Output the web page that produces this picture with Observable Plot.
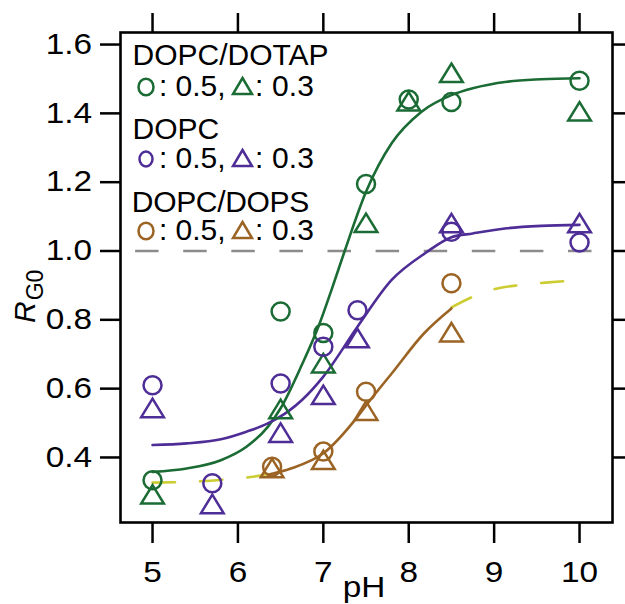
<!DOCTYPE html>
<html><head><meta charset="utf-8">
<script src="https://cdn.jsdelivr.net/npm/d3@7"></script>
<script src="https://cdn.jsdelivr.net/npm/@observablehq/plot@0.6"></script>
<style>body{margin:0;background:#fff;} svg{display:block;}</style>
</head><body><div id="chart"></div>
<script>
// ---------- data ----------
const pHTicks = [5, 6, 7, 8, 9, 10];
const rTicks = [0.4, 0.6, 0.8, 1.0, 1.2, 1.4, 1.6];

const dotapCirclePH = [5, 6.5, 7, 7.5, 8, 8.5, 10];
const dotapCircleR  = [0.334, 0.824, 0.762, 1.195, 1.44, 1.433, 1.495];
const dotapTrianglePH = [5, 6.5, 7, 7.5, 8, 8.5, 10];
const dotapTriangleR  = [0.293, 0.541, 0.674, 1.082, 1.435, 1.518, 1.406];

const dopcCirclePH = [5, 5.7, 6.5, 7, 7.4, 8.5, 10];
const dopcCircleR  = [0.610, 0.325, 0.615, 0.722, 0.828, 1.056, 1.025];
const dopcTrianglePH = [5, 5.7, 6.5, 7, 7.4, 8.5, 10];
const dopcTriangleR  = [0.544, 0.265, 0.472, 0.582, 0.747, 1.081, 1.081];

const dopsCirclePH = [6.4, 7, 7.5, 8.5];
const dopsCircleR  = [0.373, 0.417, 0.591, 0.906];
const dopsTrianglePH = [6.4, 7, 7.5, 8.5];
const dopsTriangleR  = [0.369, 0.393, 0.536, 0.764];

// fitted curves
const dotapFitPH = [5.0, 5.4, 5.8, 6.1, 6.35, 6.5, 6.75, 6.95, 7.1, 7.25, 7.5, 7.8, 8.15, 8.5, 8.75, 9.15, 9.55, 10];
const dotapFitR  = [0.358, 0.368, 0.392, 0.431, 0.489, 0.543, 0.67, 0.785, 0.89, 1.0, 1.172, 1.313, 1.405, 1.453, 1.473, 1.492, 1.499, 1.502];
const dopcFitPH = [5.0, 5.4, 5.8, 6.1, 6.35, 6.6, 6.75, 7.0, 7.4, 7.8, 8.2, 8.5, 8.75, 9.15, 9.55, 10];
const dopcFitR  = [0.436, 0.441, 0.453, 0.475, 0.499, 0.536, 0.567, 0.635, 0.780, 0.916, 0.995, 1.04, 1.051, 1.066, 1.073, 1.076];
const dopsFitPH = [6.35, 6.62, 7.0, 7.4, 7.55, 7.8, 8.18, 8.5];
const dopsFitR  = [0.35, 0.368, 0.412, 0.518, 0.567, 0.644, 0.761, 0.833];
const dopsExtLowPH = [5.0, 5.5, 5.9, 6.15, 6.35];
const dopsExtLowR  = [0.327, 0.330, 0.337, 0.343, 0.352];
const dopsExtHighPH = [8.5, 8.75, 9.05, 9.3, 9.6, 9.87];
const dopsExtHighR  = [0.836, 0.867, 0.892, 0.901, 0.908, 0.913];

const refLevel = [1.0];

const legendTitles = ["DOPC/DOTAP", "DOPC", "DOPC/DOPS"];
const legendCircleText = ": 0.5,";
const legendTriangleText = ": 0.3";

const green = "#1b6b34", purple = "#4e2d96", brown = "#9b6424", yellow = "#cccc33", grey = "#8c8c8c";
const legendColors = [green, purple, brown];

// ---------- helpers ----------
const zip = (xs, ys) => xs.map((x, i) => ({pH: x, R: ys[i]}));
const triUp = {
  draw(ctx, size) {
    const r = Math.sqrt(size / Math.PI);
    const w = r * 1.35, h = r * 1.1;
    ctx.moveTo(0, -h); ctx.lineTo(w, h); ctx.lineTo(-w, h); ctx.closePath();
  }
};
const circ = (xs, ys, c) => Plot.dot(zip(xs, ys), {x: "pH", y: "R", r: 9, stroke: c, strokeWidth: 2.5, fill: "none"});
const tri = (xs, ys, c) => Plot.dot(zip(xs, ys), {x: "pH", y: "R", r: 8.4, symbol: triUp, stroke: c, strokeWidth: 2.5, fill: "none", strokeLinejoin: "miter"});
const fit = (xs, ys, c, extra = {}) => Plot.line(zip(xs, ys), {x: "pH", y: "R", stroke: c, strokeWidth: 2.6, curve: "monotone-x", ...extra});

const FONT = "'Liberation Sans', Arial, Helvetica, sans-serif";
const TICK_FS = 29, WIDE = 1.15;

const chart = Plot.plot({
  width: 625, height: 604,
  marginLeft: 120, marginRight: 13, marginTop: 32, marginBottom: 82,
  style: {fontFamily: FONT, fontSize: TICK_FS + "px", color: "#000", background: "#fff", overflow: "visible"},
  x: {domain: [4.625, 10.386], ticks: pHTicks},
  y: {domain: [0.211, 1.635], ticks: rTicks},
  marks: [
    Plot.ruleY(refLevel, {stroke: grey, strokeWidth: 2.6, strokeDasharray: "23.5,24.6", strokeDashoffset: 33}),
    fit(dopsExtLowPH, dopsExtLowR, yellow, {strokeDasharray: "22.5,25"}),
    fit(dopsExtHighPH, dopsExtHighR, yellow, {strokeDasharray: "22,25"}),
    fit(dotapFitPH, dotapFitR, green),
    fit(dopcFitPH, dopcFitR, purple),
    fit(dopsFitPH, dopsFitR, brown),
    circ(dotapCirclePH, dotapCircleR, green),
    tri(dotapTrianglePH, dotapTriangleR, green),
    circ(dopcCirclePH, dopcCircleR, purple),
    tri(dopcTrianglePH, dopcTriangleR, purple),
    circ(dopsCirclePH, dopsCircleR, brown),
    tri(dopsTrianglePH, dopsTriangleR, brown),
    Plot.axisY(rTicks, {anchor: "left", tickSize: 20, tickPadding: 8.5, strokeWidth: 2.5, fontSize: TICK_FS, tickFormat: d3.format(".1f"), label: null}),
    Plot.axisY(rTicks, {anchor: "right", tickSize: 20, strokeWidth: 2.5, tickFormat: () => "", label: null}),
    Plot.axisX(pHTicks, {anchor: "bottom", tickSize: 21, tickPadding: 18, strokeWidth: 2.5, fontSize: TICK_FS, label: null}),
    Plot.axisX(pHTicks, {anchor: "top", tickSize: 20, strokeWidth: 2.5, tickFormat: () => "", label: null}),
    Plot.frame({stroke: "#000", strokeWidth: 2.6})
  ]
});
document.getElementById("chart").appendChild(chart);

const svg = d3.select(chart);

// widen tick labels about their anchor (reference typeface is wider)
svg.selectAll('g[aria-label*="tick label"] text').each(function () {
  const t = d3.select(this);
  const tr = t.attr("transform");
  if (tr) t.attr("transform", tr + ` scale(${WIDE},1)`);
  else {
    const x = +t.attr("x") || 0, y = +t.attr("y") || 0;
    t.attr("x", null).attr("y", null).attr("transform", `translate(${x},${y}) scale(${WIDE},1)`);
  }
});

// ---------- labels & legend ----------
const g = svg.append("g").attr("font-family", FONT).attr("fill", "#000").attr("text-anchor", "start");

g.append("text").attr("transform", `translate(364,597) scale(${WIDE},1)`).attr("text-anchor", "middle").attr("font-size", TICK_FS).text("pH");

const yl = g.append("text").attr("transform", "translate(35,323) rotate(-90)").attr("font-size", 30).attr("text-anchor", "start");
yl.append("tspan").attr("font-style", "italic").text("R");
yl.append("tspan").attr("font-size", 23).attr("dy", 8).attr("dx", 1).text("G0");

const titleBase = [65, 139, 212];
const titleX = [132.6, 132.6, 131.8];
const titleLen = [196, 86.5, 177.5];
const rowBase = [96, 168, 240];
legendTitles.forEach((t, i) => {
  g.append("text").attr("x", titleX[i]).attr("y", titleBase[i]).attr("font-size", 30)
    .attr("textLength", titleLen[i]).attr("lengthAdjust", "spacing").text(t);
  const by = rowBase[i];
  const c = legendColors[i];
  g.append("ellipse").attr("cx", 146).attr("cy", by - 9).attr("rx", i === 1 ? 6.5 : 7.5).attr("ry", i === 1 ? 7.5 : 8.3)
    .attr("fill", "none").attr("stroke", c).attr("stroke-width", 2.5);
  g.append("text").attr("x", 159).attr("y", by).attr("font-size", 30)
    .attr("textLength", 66.5).attr("lengthAdjust", "spacing").text(legendCircleText);
  g.append("path").attr("d", `M242.5,${by - 18} L252,${by - 2} L233,${by - 2} Z`)
    .attr("fill", "none").attr("stroke", c).attr("stroke-width", 2.5);
  g.append("text").attr("x", 255).attr("y", by).attr("font-size", 30)
    .attr("textLength", 59).attr("lengthAdjust", "spacing").text(legendTriangleText);
});
</script>
</body></html>
